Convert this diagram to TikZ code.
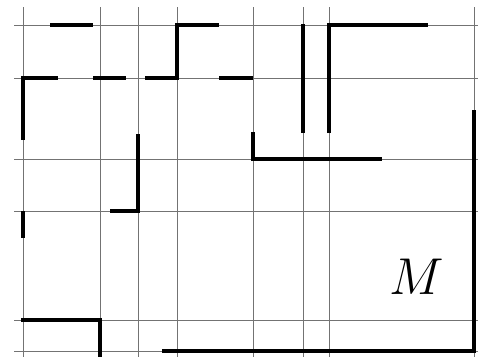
\RequirePackage{fix-cm}
\documentclass[tikz,border=0pt]{standalone}
\begin{document}
\begin{tikzpicture}[x=1bp,y=-1bp,
  gridline/.style={draw=black!55,line width=0.8bp},
  wall/.style={draw=black,line width=4.6bp,line cap=butt,line join=miter}]
\useasboundingbox (0,0) rectangle (478,357);
% grid
\foreach \gx in {23,100,138,177,253,303,329,474}
  \draw[gridline] (\gx,7) -- (\gx,357);
\foreach \gy in {25,78,159,211,320,351}
  \draw[gridline] (14,\gy) -- (478,\gy);
% walls
\draw[wall] (50,25) -- (93,25);
\draw[wall] (58,78) -- (23,78) -- (23,140);
\draw[wall] (93,78) -- (126,78);
\draw[wall] (145,78) -- (177,78) -- (177,25) -- (219,25);
\draw[wall] (219,78) -- (253,78);
\draw[wall] (303,24) -- (303,133);
\draw[wall] (329,133) -- (329,25) -- (428,25);
\draw[wall] (253,132) -- (253,159) -- (382,159);
\draw[wall] (474,110) -- (474,351) -- (162,351);
\draw[wall] (138,134) -- (138,211) -- (110,211);
\draw[wall] (23,211) -- (23,238);
\draw[wall] (21,320) -- (100,320) -- (100,357);
% label
\node[inner sep=0pt] (m) at (417,277) {\fontsize{52}{60}\selectfont $M$};
\end{tikzpicture}
\end{document}
